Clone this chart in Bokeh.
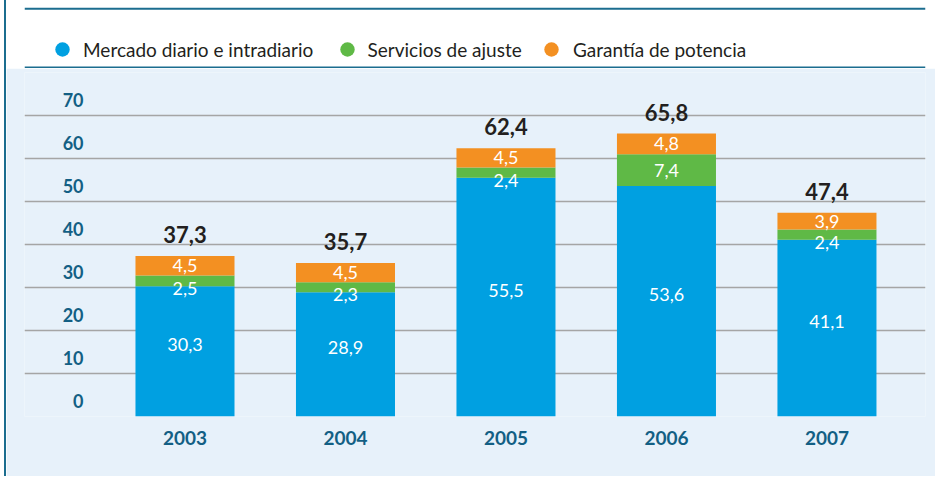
import numpy as np
from bokeh.plotting import figure
from bokeh.models import ColumnDataSource, FixedTicker, Span, Legend, LegendItem, Range1d
from bokeh.layouts import column
from bokeh.embed import file_html
from bokeh.resources import INLINE
from bokeh.core.properties import value

# ---- data ----
years = ["2003", "2004", "2005", "2006", "2007"]
mercado = [30.3, 28.9, 55.5, 53.6, 41.1]
servicios = [2.5, 2.3, 2.4, 7.4, 2.4]
garantia = [4.5, 4.5, 4.5, 4.8, 3.9]
totals = [37.3, 35.7, 62.4, 65.8, 47.4]
y_ticks = [0, 10, 20, 30, 40, 50, 60, 70]
series_names = ["Mercado diario e intradiario", "Servicios de ajuste", "Garantía de potencia"]
colors = ["#00a0e1", "#5fb946", "#f39022"]

BG = "#e7f1fa"
TEAL = "#1b6d8f"
TICK = "#135f84"
FONT = "Lato"
W = 929


def fmt(v):
    return f"{v:.1f}".replace(".", ",")


# ---- header with legend ----
h = figure(width=W, height=68, x_range=Range1d(0, W), y_range=Range1d(0, 68),
           x_axis_location=None, y_axis_location=None, min_border=0,
           toolbar_location=None, output_backend="svg",
           background_fill_color="white", border_fill_color="white",
           outline_line_color=None)
h.grid.visible = False
h.add_layout(Span(location=59.7, dimension="width", line_color=TEAL, line_width=2))
h.add_layout(Span(location=1, dimension="width", line_color=TEAL, line_width=2))

leg_x = [20, 304.5, 509]
leg_standoff = [3, 3, 4]
for name, c, lx, so in zip(series_names, colors, leg_x, leg_standoff):
    # legend proxy, kept outside the visible area
    r = h.scatter(x=[-100], y=[-100], marker="circle", size=14, fill_color=c, line_color=None)
    leg = Legend(items=[LegendItem(label=name, renderers=[r])], location=(lx, 1),
                 glyph_width=36, glyph_height=36, label_standoff=so, padding=0, margin=0,
                 spacing=0, border_line_color=None, background_fill_alpha=0,
                 label_text_font=FONT, label_text_font_size="19px",
                 label_text_color="#231f20")
    h.add_layout(leg)

# ---- main chart ----
idx = list(range(len(years)))
p = figure(width=W, height=408, x_range=Range1d(-1.0, 4.614), y_range=Range1d(0, 80),
           min_border_left=18, min_border_right=10, min_border_top=4, min_border_bottom=60,
           toolbar_location=None, output_backend="svg",
           background_fill_color=BG, border_fill_color=BG, outline_line_color=None)

src = ColumnDataSource(dict(x=idx, mercado=mercado, servicios=servicios, garantia=garantia))
p.vbar_stack(["mercado", "servicios", "garantia"], x="x", width=0.617, source=src,
             fill_color=colors, line_color=None)

p.yaxis.visible = False
p.xgrid.visible = False
p.ygrid.ticker = FixedTicker(ticks=y_ticks)
p.ygrid.grid_line_color = "#a5a5a5"
p.ygrid.grid_line_width = 1.5

xa = p.xaxis[0]
xa.ticker = FixedTicker(ticks=idx)
xa.major_label_overrides = {i: y for i, y in zip(idx, years)}
xa.axis_line_color = None
xa.major_tick_line_color = None
xa.minor_tick_line_color = None
xa.major_tick_out = 0
xa.major_label_standoff = 14
xa.major_label_text_font = FONT
xa.major_label_text_font_size = "19px"
xa.major_label_text_font_style = "bold"
xa.major_label_text_color = TICK

# y tick labels (sitting above their grid lines)
p.text(x=[-0.632] * len(y_ticks), y=np.array(y_ticks) + 3.6, text=[str(t) for t in y_ticks],
       text_align="right", text_baseline="middle", text_font=value(FONT),
       text_font_size="18px", text_font_style="bold", text_color=TICK)

b = np.array(mercado)
s = np.array(servicios)
g = np.array(garantia)
t = np.array(totals)

lab_kw = dict(text_align="center", text_baseline="middle", text_font=value(FONT),
              text_font_size="18px", text_color="white")
p.text(x=idx, y=b / 2 + 1.5, text=[fmt(v) for v in mercado], **lab_kw)
p.text(x=idx, y=np.where(s >= 3, b + s / 2, b - 0.6), text=[fmt(v) for v in servicios], **lab_kw)
p.text(x=idx, y=b + s + g / 2, text=[fmt(v) for v in garantia], **lab_kw)
p.text(x=idx, y=t + 5.0, text=[fmt(v) for v in totals], text_align="center",
       text_baseline="middle", text_font=value(FONT), text_font_size="22px",
       text_font_style="bold", text_color="#231f20")

layout = column(h, p, spacing=0,
                styles={"margin-left": "4px", "border-left": f"2px solid {TEAL}"})

open("out.html", "w").write(file_html(layout, INLINE))
